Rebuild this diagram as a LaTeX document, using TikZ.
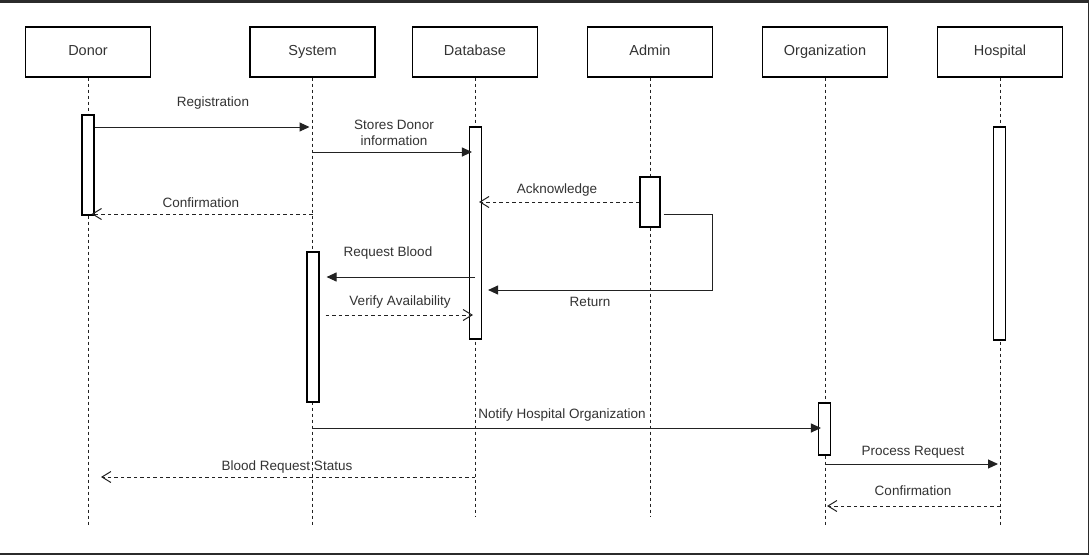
\documentclass[tikz,border=0pt]{standalone}
\usepackage{fontspec}
\setmainfont{Liberation Sans}
\usetikzlibrary{arrows.meta,calc}
\definecolor{ink}{HTML}{222222}
\definecolor{txt}{HTML}{333333}
\definecolor{frame}{HTML}{2B2B2B}
\begin{document}
\begin{tikzpicture}[x=1pt,y=-1pt,
  head/.style={draw=black, line width=1.2pt, minimum width=125pt, minimum height=50pt, inner sep=0pt, text height=10.5pt, text depth=3pt, font=\fontsize{14.5}{17}\selectfont, text=txt},
  bar/.style={draw=black, fill=white, line width=1.1pt, minimum width=12pt, inner sep=0pt},
  life/.style={draw=ink, line width=0.9pt, dash pattern=on 3pt off 3pt},
  lbl/.style={font=\fontsize{13.5}{16}\selectfont, text=txt, inner sep=0pt, align=center},
  call/.style={draw=ink, line width=1pt, -{Triangle[length=10pt,width=9pt]}},
  reply/.style={draw=ink, line width=1pt, dash pattern=on 3.5pt off 3pt, -{Straight Barb[length=9pt,width=11pt,line width=1pt]}}
]
\useasboundingbox (0,0) rectangle (1089,555);
\fill[white] (0,0) rectangle (1089,555);
\fill[frame] (0,0) rectangle (1089,2.5);
\fill[frame] (0,553) rectangle (1089,555);
\fill[frame] (1087.5,0) rectangle (1089,555);

% participants
\node[head] (donor) at (88,52) {Donor};
\node[head] (system) at (312.5,52) {System};
\node[head] (db) at (475,52) {Database};
\node[head] (admin) at (650,52) {Admin};
\node[head] (org) at (825,52) {Organization};
\node[head] (hosp) at (1000,52) {Hospital};

% lifeline ends
\coordinate (donorEnd) at (88,525);
\coordinate (systemEnd) at (312.5,525);
\coordinate (dbEnd) at (475,517);
\coordinate (adminEnd) at (650,517);
\coordinate (orgEnd) at (825,525);
\coordinate (hospEnd) at (1000,525);

\draw[life] (donor.south) -- (donorEnd);
\draw[life] (system.south) -- (systemEnd);
\draw[life] (db.south) -- (dbEnd);
\draw[life] (admin.south) -- (adminEnd);
\draw[life] (org.south) -- (orgEnd);
\draw[life] (hosp.south) -- (hospEnd);

% activation bars
\node[bar, minimum height=100pt] (bdonor) at (88,165) {};
\node[bar, minimum height=212pt] (bdb) at (475.5,233) {};
\node[bar, minimum width=20pt, minimum height=50pt] (badmin) at (650,202) {};
\node[bar, minimum height=150pt] (bsys) at (313,327) {};
\node[bar, minimum height=52pt] (borg) at (824.5,429) {};
\node[bar, minimum height=213pt] (bhosp) at (999.5,233.5) {};

% messages
\draw[call] (bdonor.east |- 0,127) -- ($(system |- 0,127)+(-3,0)$);
\node[lbl] (l1) at (213,103) {Registration};

\draw[call] (system |- 0,152) -- ($(bdb.west |- 0,152)+(3,0)$);
\node[lbl] (l2) at (394,133) {Stores Donor\\information};

\draw[reply] (system |- 0,214) -- ($(bdonor.east |- 0,214)+(-3,0)$);
\node[lbl] (l3) at (201,203) {Confirmation};

\draw[reply] (badmin.west |- 0,202) -- ($(bdb.east |- 0,202)+(-3,0)$);
\node[lbl] (l4) at (557,190) {Acknowledge};

\coordinate (retA) at (712,214);
\coordinate (retB) at (712,290);
\draw[call] ($(badmin.east |- 0,214)+(3,0)$) -- (retA) -- (retB) -- ($(bdb.east |- 0,290)+(6,0)$);
\node[lbl] (l5) at (590,302) {Return};

\draw[call] (db |- 0,277) -- ($(bsys.east |- 0,277)+(7,0)$);
\node[lbl] (l6) at (388,253) {Request Blood};

\draw[reply] ($(bsys.east |- 0,315)+(6,0)$) -- ($(db |- 0,315)+(-2,0)$);
\node[lbl] (l7) at (400,302) {Verify Availability};

\draw[call] (system |- 0,428) -- ($(borg.west |- 0,428)+(3,0)$);
\node[lbl] (l8) at (562,415) {Notify Hospital Organization};

\draw[reply] (db |- 0,477) -- ($(donor |- 0,477)+(13,0)$);
\node[lbl] (l9) at (287,467) {Blood Request Status};

\draw[call] (org |- 0,464) -- ($(hosp |- 0,464)+(-2,0)$);
\node[lbl] (l10) at (913,452) {Process Request};

\draw[reply] (hosp |- 0,506) -- ($(org |- 0,506)+(2,0)$);
\node[lbl] (l11) at (913,491) {Confirmation};
\end{tikzpicture}
\end{document}
